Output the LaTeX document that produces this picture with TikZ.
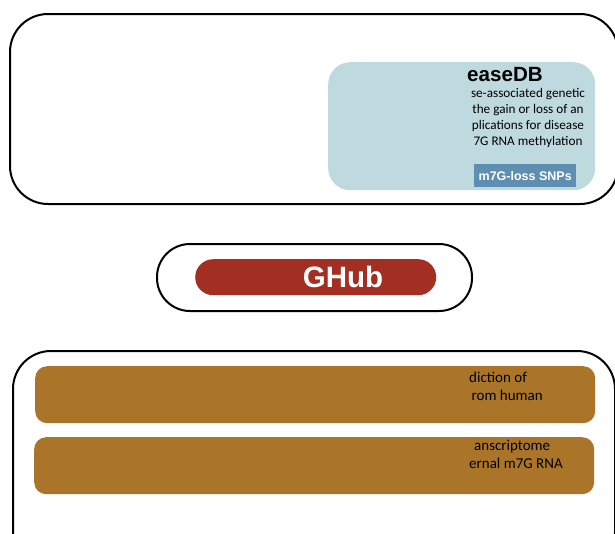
\documentclass[tikz,border=0pt]{standalone}
\usepackage{fontspec}
\setmainfont{Liberation Sans}
\newfontfamily\bodyfont{Carlito}
\definecolor{paleblue}{HTML}{BFDADF}
\definecolor{snpblue}{HTML}{5E8FB3}
\definecolor{hubred}{HTML}{A32F22}
\definecolor{toolbrown}{HTML}{AB7529}
\begin{document}
\begin{tikzpicture}[x=1pt,y=-1pt,
  panel/.style={draw=black,line width=2pt,fill=white,anchor=north west,inner sep=0pt},
  block/.style={anchor=north west,inner sep=0pt},
  body/.style={font=\bodyfont\fontsize{13.2}{16}\selectfont,inner sep=0pt},
  tooltext/.style={font=\bodyfont\fontsize{15}{18}\selectfont,inner sep=0pt,align=left,anchor=west}]
\useasboundingbox (0,0) rectangle (615,533);
\clip (0,0) rectangle (615,533);
\fill[white] (0,0) rectangle (615,533);
% top panel
\node[panel,rounded corners=38pt,minimum width=608pt,minimum height=190pt] (dbpanel) at (9,13) {};
\node[block,fill=paleblue,rounded corners=22pt,minimum width=267pt,minimum height=128pt] (dbbox) at (328,62) {};
\node[font=\bfseries\fontsize{20.6}{20.6}\selectfont] (dbtitle) at (505,75) {easeDB};
\node[body,align=center] (dbtext) at (528,118) {se-associated genetic\\the gain or loss of an\\plications for disease\\7G RNA methylation};
\node[block,fill=snpblue,minimum width=102pt,minimum height=23pt] (snp) at (474,164) {};
\node[text=white,font=\bfseries\fontsize{12.5}{12.5}\selectfont] (snplabel) at (snp.center) {m7G-loss SNPs};
% hub
\node[panel,rounded corners=33pt,minimum width=315pt,minimum height=67pt] (hubpanel) at (156,243) {};
\node[block,fill=hubred,rounded corners=18pt,minimum width=241pt,minimum height=36pt] (hub) at (195,259) {};
\node[text=white,font=\bfseries\fontsize{29.5}{29.5}\selectfont] (hublabel) at (343,277) {GHub};
% bottom panel
\node[panel,rounded corners=38pt,minimum width=602pt,minimum height=220pt] (toolpanel) at (12,350) {};
\node[block,fill=toolbrown,rounded corners=12pt,minimum width=560pt,minimum height=57pt] (toolA) at (35,366) {};
\node[block,fill=toolbrown,rounded corners=12pt,minimum width=560pt,minimum height=57pt] (toolB) at (34,437) {};
\node[tooltext] (toolAtext) at (469,386) {diction of\\\,rom human};
\node[tooltext] (toolBtext) at (469,454) {\,\,anscriptome\\ernal m7G RNA};
\end{tikzpicture}
\end{document}
